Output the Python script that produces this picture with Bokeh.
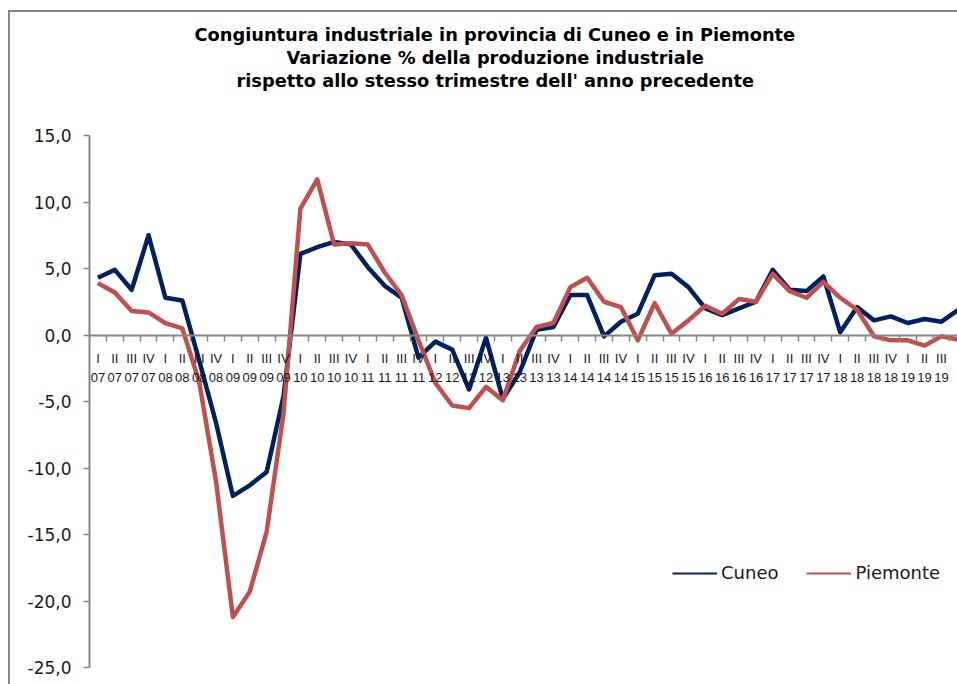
from bokeh.plotting import figure
from bokeh.models import FixedTicker, Legend, LegendItem, Title, Range1d, LinearAxis
from bokeh.embed import file_html
from bokeh.resources import INLINE

# ---- data ----
roman = ["I", "II", "III", "IV"]
years = ["07", "08", "09", "10", "11", "12", "13", "14", "15", "16", "17", "18", "19"]
quarter_roman = [r for y in years for r in roman]
quarter_year = [y for y in years for r in roman]

cuneo = [4.3, 4.9, 3.4, 7.5, 2.8, 2.6, -1.9, -6.6,
         -12.1, -11.3, -10.3, -4.6, 6.1, 6.6, 7.0, 6.8,
         5.1, 3.7, 2.8, -1.7, -0.5, -1.1, -4.1, -0.2,
         -4.8, -2.8, 0.4, 0.6, 3.0, 3.0, -0.1, 1.0,
         1.6, 4.5, 4.6, 3.6, 2.0, 1.5, 2.0, 2.5,
         4.9, 3.4, 3.3, 4.4, 0.2, 2.1, 1.1, 1.4,
         0.9, 1.2, 1.0, 1.9]
piemonte = [3.9, 3.2, 1.8, 1.7, 0.9, 0.5, -3.5, -11.0,
            -21.2, -19.3, -14.8, -5.9, 9.5, 11.7, 6.8, 6.9,
            6.8, 4.7, 3.0, -0.4, -3.6, -5.3, -5.5, -3.9,
            -4.9, -1.2, 0.6, 0.9, 3.6, 4.3, 2.5, 2.1,
            -0.4, 2.4, 0.1, 1.1, 2.2, 1.6, 2.7, 2.5,
            4.6, 3.3, 2.8, 4.0, 2.8, 1.9, -0.1, -0.4,
            -0.4, -0.8, -0.1, -0.35]

y_ticks = [-25, -20, -15, -10, -5, 0, 5, 10, 15]
y_tick_labels = ["-25,0", "-20,0", "-15,0", "-10,0", "-5,0", "0,0", "5,0", "10,0", "15,0"]

title_lines = ["Congiuntura industriale in provincia di Cuneo e in Piemonte",
               "Variazione % della produzione industriale",
               "rispetto allo stesso trimestre dell' anno precedente"]

series_names = ["Cuneo", "Piemonte"]
series_colors = ["#002060", "#C0504D"]

# ---- figure ----
n = len(cuneo)
xs = list(range(n))

p = figure(width=957, height=684, output_backend="svg", toolbar_location=None,
           x_range=Range1d(-0.5, 50.95), y_range=Range1d(-25, 15),
           min_border_left=89, min_border_right=0, min_border_top=135, min_border_bottom=17)
p.outline_line_color = None
p.xgrid.visible = False
p.ygrid.visible = False
p.background_fill_color = "white"
p.border_fill_color = None
# chart-area border (left and top edges, the rest is cropped in the reference)
p.styles = {"background": "linear-gradient(#868686,#868686) 8px 10px / 2px 674px no-repeat, "
                          "linear-gradient(#868686,#868686) 8px 10px / 949px 2px no-repeat, white"}

AXIS_GREY = "#868686"
TEXT = "#1a1a1a"

# y axis
ya = p.yaxis[0]
ya.ticker = FixedTicker(ticks=y_ticks)
ya.major_label_overrides = {t: l for t, l in zip(y_ticks, y_tick_labels)}
ya.axis_line_color = AXIS_GREY
ya.axis_line_width = 2
ya.major_tick_line_color = AXIS_GREY
ya.major_tick_line_width = 1.5
ya.major_tick_out = 6
ya.major_tick_in = 0
ya.minor_tick_line_color = None
ya.major_label_standoff = 12
ya.major_label_text_font = "DejaVu Sans"
ya.major_label_text_font_size = "17px"
ya.major_label_text_color = TEXT

# x axis (quarter) at y = 0
xa = p.xaxis[0]
xa.fixed_location = 0
xa.ticker = FixedTicker(ticks=xs, minor_ticks=[i - 0.5 for i in range(n + 1)])
xa.major_label_overrides = {i: quarter_roman[i] for i in xs}
xa.axis_line_color = AXIS_GREY
xa.axis_line_width = 2
xa.major_tick_line_color = None
xa.major_tick_out = 0
xa.major_tick_in = 0
xa.minor_tick_line_color = AXIS_GREY
xa.minor_tick_line_width = 1.5
xa.minor_tick_out = 6
xa.minor_tick_in = 0
xa.major_label_standoff = 10
xa.major_label_text_font = "Liberation Sans"
xa.major_label_text_font_size = "13px"
xa.major_label_text_color = TEXT

xa2 = LinearAxis(fixed_location=0)
xa2.ticker = FixedTicker(ticks=xs)
xa2.major_label_overrides = {i: quarter_year[i] for i in xs}
xa2.axis_line_color = None
xa2.major_tick_line_color = None
xa2.minor_tick_line_color = None
xa2.major_tick_out = 0
xa2.major_tick_in = 0
xa2.major_label_standoff = 38
xa2.major_label_text_font = "Liberation Sans"
xa2.major_label_text_font_size = "13px"
xa2.major_label_text_color = TEXT
p.add_layout(xa2, "below")

# lines
for vals, color in zip([cuneo, piemonte], series_colors):
    p.line(xs, vals, line_color=color, line_width=4.5, line_join="round")

# legend (thin sample lines)
items = []
for name, color in zip(series_names, series_colors):
    r = p.line([0], [float("nan")], line_color=color, line_width=2)
    items.append(LegendItem(label=name, renderers=[r]))
legend = Legend(items=items, orientation="horizontal", location=(583, 84),
                glyph_width=45, glyph_height=20, label_standoff=4, spacing=28,
                padding=0, margin=0, border_line_color=None, background_fill_alpha=0,
                label_text_font="DejaVu Sans", label_text_font_size="18px",
                label_text_color=TEXT, label_height=20)
p.add_layout(legend)

# title: spacer closest to the plot, then lines from bottom to top
p.add_layout(Title(text=" ", standoff=42, text_font_size="1px"), "above")
offsets = [147, 197, 105]
for line, off in zip(reversed(title_lines), offsets):
    p.add_layout(Title(text=line, align="left", offset=off, standoff=0,
                       text_font="DejaVu Sans", text_font_style="bold",
                       text_font_size="17.8px", text_color="black"), "above")

open("out.html", "w").write(file_html(p, INLINE))
